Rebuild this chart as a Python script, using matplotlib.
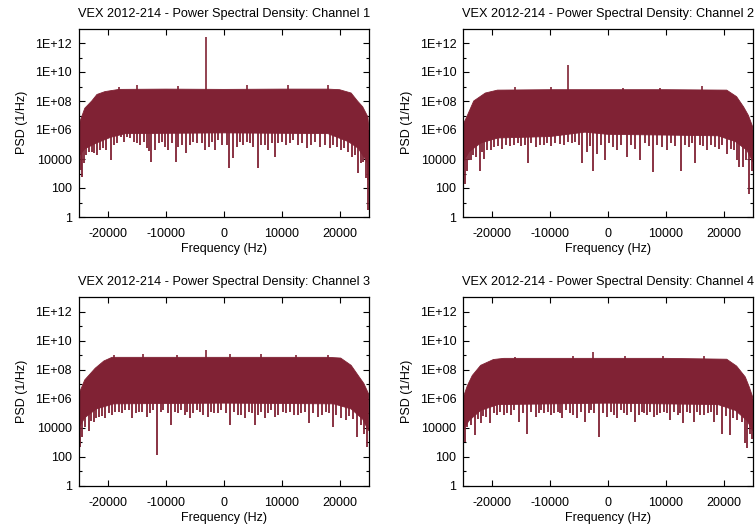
import numpy as np
import matplotlib
matplotlib.use("Agg")
import matplotlib.pyplot as plt
from matplotlib.ticker import FixedLocator, FixedFormatter, NullFormatter

plt.rcParams['font.family'] = ['Liberation Sans', 'DejaVu Sans']

TITLE = "VEX 2012-214 - Power Spectral Density: Channel {}"
XLABEL = "Frequency (Hz)"
YLABEL = "PSD (1/Hz)"
x_ticks = [-20000, -10000, 0, 10000, 20000]
x_tick_labels = ["-20000", "-10000", "0", "10000", "20000"]
y_ticks = [1, 1e2, 1e4, 1e6, 1e8, 1e10, 1e12]
y_tick_labels = ["1", "100", "10000", "1E+06", "1E+08", "1E+10", "1E+12"]
y_minor = [1e1, 1e3, 1e5, 1e7, 1e9, 1e11]

# ---- Channel 1 ----  (values as log10 of PSD)
ch1_top_f = [-25000, -24000, -22800, -21900, -20500, -18100, -10000, 0, 10000, 18000, 20000, 22000, 23100, 24000, 24900, 25000]
ch1_top_v = [6.4, 7.5, 8.0, 8.45, 8.65, 8.8, 8.82, 8.8, 8.82, 8.82, 8.78, 8.55, 8.0, 7.6, 6.9, 6.4]
ch1_floor_f = [-25000, -24000, -22000, -19500, -17000, 0, 18000, 21500, 23200, 24600, 25000]
ch1_floor_v = [4.2, 4.7, 5.1, 5.5, 5.75, 5.8, 5.75, 5.2, 4.75, 3.9, 3.5]
ch1_dip_f = [-25000, -24686, -24400, -24114, -23714, -23257, -22800, -22400, -21829, -21429, -20857, -20400,
             -19543, -18971, -18400, -17829, -17257, -16686, -16114, -15543, -14971, -14400, -13829,
             -13257, -12857, -12514, -11943, -11257, -10686, -10114, -9657, -8971, -8229, -7829, -7257,
             -6514, -5829, -5257, -4686, -3829, -3257, -2571, -2114, -1543, -971, -286,
             517, 920, 1552, 2241, 2816, 3391, 3966, 4540, 5115, 5862, 6437, 7126, 7701, 8276, 8851,
             9425, 10000, 10690, 11437, 12011, 12759, 13448, 14310, 15057, 15747, 16609, 17471, 18333,
             18908, 19483, 20172, 20805, 21494, 22069, 22644, 23218, 23678, 24080, 24483, 24943, 24990]
ch1_dip_v = [3.45, 3.24, 2.78, 3.70, 4.28, 4.51, 4.51, 4.39, 4.28, 4.62, 4.74, 4.62,
             3.93, 4.97, 5.08, 5.54, 5.20, 5.54, 5.43, 5.20, 5.08, 4.97, 5.20,
             4.74, 4.57, 3.82, 4.62, 5.08, 5.20, 4.85, 4.62, 5.08, 3.82, 4.85, 4.97,
             4.39, 4.97, 5.20, 5.08, 5.08, 4.62, 4.85, 5.20, 4.62, 5.31, 4.97,
             4.97, 3.36, 4.05, 4.85, 5.20, 4.97, 5.20, 5.08, 4.85, 3.36, 4.97, 4.97, 4.62, 5.08, 4.16,
             5.08, 5.20, 4.97, 5.08, 5.31, 4.97, 5.08, 4.74, 4.97, 5.20, 4.85, 4.97, 4.74,
             4.97, 4.85, 4.62, 4.74, 4.51, 4.16, 4.28, 3.01, 3.70, 3.82, 2.67, 2.55, 0.45]
ch1_spike_f = [-3000, -18114, -14971, -7829, 3966, 11149, 17931]
ch1_spike_v = [12.4, 8.99, 9.1, 9.05, 9.1, 9.08, 9.08]

# ---- Channel 2 ----
ch2_top_f = [-25000, -24300, -23200, -21200, -19100, -10000, 0, 10000, 20500, 22200, 23400, 24250, 25000]
ch2_top_v = [6.4, 7.0, 8.0, 8.55, 8.75, 8.78, 8.78, 8.78, 8.75, 8.3, 7.6, 7.0, 6.2]
ch2_floor_f = [-25000, -24000, -22000, -19000, -10000, -4000, 0, 10000, 19000, 22000, 24000, 25000]
ch2_floor_v = [3.8, 4.5, 5.1, 5.45, 5.55, 5.85, 5.7, 5.65, 5.6, 5.2, 4.6, 3.8]
ch2_dip_f = [-24770, -24430, -23740, -22870, -22180, -21440, -20290, -18280, -16260, -13910, -12530, -11090,
             -8220, -4480, -3620, -2640, -1900, -570, 1550, 3280, 5570, 7760, 10170, 12640, 15060, 17070,
             19080, 20520, 22240, 22700, 23390, 23850, 24310, 24830,
             -24100, -23300, -21800, -20900, -19700, -19000, -17700, -17000, -15600, -15000, -14400,
             -13300, -11800, -10500, -9800, -9200, -7600, -7000, -6300, -5700, -5100, -3100, -1200,
             200, 900, 2300, 4000, 4700, 6300, 7000, 8500, 9300, 10900, 11600, 13300, 14000, 14500,
             15800, 16400, 17800, 18400, 19700, 21300, 21800]
ch2_dip_v = [2.3, 3.2, 3.9, 4.15, 3.2, 4.0, 4.6, 4.7, 4.95, 3.7, 4.8, 4.95,
             5.05, 3.7, 4.5, 3.2, 4.35, 3.9, 4.6, 4.15, 3.9, 3.1, 4.6, 3.2, 3.7, 4.6,
             4.7, 4.35, 3.9, 3.45, 3.45, 3.9, 1.6, 3.2,
             3.9, 4.3, 4.5, 4.6, 4.8, 4.9, 5.0, 4.9, 5.1, 4.9, 5.0,
             5.1, 5.0, 5.1, 4.9, 5.1, 5.0, 5.2, 5.1, 5.2, 5.0, 4.9, 5.0,
             5.1, 4.8, 5.0, 5.0, 4.7, 5.1, 4.9, 5.0, 4.8, 5.1, 4.9, 5.0, 4.8, 5.1,
             5.0, 4.9, 5.0, 4.8, 5.0, 4.7, 4.6]
ch2_spike_f = [-6900, -9800, 16200, -16000, 2500, 9000]
ch2_spike_v = [10.5, 8.95, 9.05, 8.95, 8.92, 8.92]

# ---- Channel 3 ----
ch3_top_f = [-25000, -24000, -22200, -20700, -19300, -10000, 0, 10000, 18000, 20200, 22000, 23400, 24200, 25000]
ch3_top_v = [6.35, 7.3, 8.1, 8.6, 8.85, 8.85, 8.85, 8.85, 8.85, 8.8, 8.3, 7.5, 7.05, 6.35]
ch3_floor_f = [-25000, -24000, -22000, -19000, 0, 19000, 22000, 24000, 25000]
ch3_floor_v = [4.0, 4.7, 5.3, 5.65, 5.7, 5.65, 5.3, 4.6, 3.8]
ch3_dip_f = [-24810, -24470, -23900, -23210, -22460, -21600, -20460, -19310, -18170, -17020, -15760, -14150,
             -13300, -11520, -10430, -9110, -7850, -5850, -4130, -2690, -970, 1030, 2460, 3720, 5330,
             7050, 8770, 10200, 12210, 14790, 16220, 18800, 20230, 21090, 22980, 23670, 24240, 24810,
             -22900, -22000, -21100, -19900, -18700, -17600, -16400, -15200, -14700, -12800, -12200,
             -10900, -9700, -8500, -7300, -6700, -6300, -5300, -4700, -3500, -2200, -1600, -400, 400,
             1700, 3000, 4300, 4800, 6000, 6500, 7600, 8200, 9400, 10800, 11500, 12800, 13400, 14100,
             15500, 17000, 17600, 18200, 19400, 21700, 22400]
ch3_dip_v = [2.7, 3.4, 4.05, 3.75, 4.4, 4.75, 4.65, 4.85, 5.1, 5.2, 4.65, 5.1,
             4.75, 2.1, 5.2, 4.2, 5.0, 4.65, 5.1, 4.75, 5.0, 4.2, 4.85, 4.65, 4.2,
             4.65, 4.75, 5.1, 4.85, 4.3, 4.75, 4.05, 4.65, 4.55, 3.4, 4.2, 3.6, 2.7,
             4.5, 4.7, 4.8, 5.0, 5.1, 5.0, 5.2, 5.0, 5.1, 5.0, 5.2,
             5.1, 5.0, 5.1, 5.2, 4.9, 5.1, 5.0, 5.2, 4.9, 5.1, 5.0, 5.2, 5.0,
             5.1, 4.9, 5.1, 5.0, 4.9, 5.1, 5.0, 5.2, 4.9, 5.0, 5.1, 4.9, 5.0, 5.1,
             5.0, 4.9, 5.1, 5.0, 4.9, 4.8, 4.6]
ch3_spike_f = [-3150, -14000, 1100, 6500, -19000, -8000, 12500, 18000]
ch3_spike_v = [9.35, 9.1, 9.1, 9.05, 9.0, 9.02, 9.0, 9.0]

# ---- Channel 4 ----
ch4_top_f = [-25000, -24300, -23450, -22000, -19800, -18000, 0, 10000, 20500, 22200, 23700, 24400, 25000]
ch4_top_v = [6.1, 6.9, 7.6, 8.3, 8.7, 8.78, 8.78, 8.78, 8.72, 8.25, 7.5, 6.8, 6.1]
ch4_floor_f = [-25000, -24000, -22000, -19000, 0, 19000, 22000, 24000, 25000]
ch4_floor_v = [3.9, 4.5, 5.2, 5.6, 5.7, 5.6, 5.2, 4.5, 3.8]
ch4_dip_f = [-24770, -24310, -23740, -23050, -22010, -21150, -20400, -19140, -17990, -16840, -15400, -13970,
             -12530, -11090, -9370, -7930, -5340, -3910, -2470, -1490, -170, 1550, 3280, 4710, 6720,
             7870, 9020, 10750, 12930, 14770, 16490, 18220, 19660, 20980, 22240, 23100, 23680, 24080,
             24540, 24890,
             -22500, -21600, -19700, -18600, -17400, -16300, -14700, -13300, -12000, -11600, -10400,
             -9900, -8700, -8300, -7300, -6600, -6000, -4600, -3300, -2900, -900, 500, 1000, 2200,
             2700, 3900, 5300, 5800, 6200, 7300, 8400, 9600, 10100, 11400, 12000, 12400, 13700, 14200,
             15400, 15900, 17200, 17700, 18900, 20300, 21600]
ch4_dip_v = [3.05, 4.05, 4.2, 3.5, 4.3, 4.75, 4.3, 4.85, 4.85, 4.85, 4.4, 3.55,
             4.75, 5.0, 5.0, 4.65, 4.65, 4.4, 5.0, 3.4, 4.75, 4.65, 4.85, 4.4, 4.85,
             4.75, 5.0, 4.55, 4.3, 4.4, 4.85, 4.4, 3.6, 3.5, 4.55, 4.4, 2.95, 2.6,
             3.6, 3.25,
             4.6, 4.8, 5.0, 5.1, 5.0, 5.2, 5.0, 5.1, 5.0, 5.2, 5.1,
             4.9, 5.1, 5.0, 5.2, 5.0, 4.9, 5.1, 5.0, 5.2, 5.0, 5.1, 4.9, 5.2,
             5.0, 5.1, 4.9, 5.1, 5.0, 5.1, 4.9, 5.1, 5.0, 5.1, 4.9, 5.0, 5.1, 5.0,
             5.1, 4.9, 5.0, 5.1, 4.9, 4.8, 4.7]
ch4_spike_f = [-2640, -6000, 9500, -16000, 3000, 16500]
ch4_spike_v = [9.2, 8.95, 8.95, 8.9, 8.92, 8.92]

channels = [
    (ch1_top_f, ch1_top_v, ch1_floor_f, ch1_floor_v, ch1_dip_f, ch1_dip_v, ch1_spike_f, ch1_spike_v),
    (ch2_top_f, ch2_top_v, ch2_floor_f, ch2_floor_v, ch2_dip_f, ch2_dip_v, ch2_spike_f, ch2_spike_v),
    (ch3_top_f, ch3_top_v, ch3_floor_f, ch3_floor_v, ch3_dip_f, ch3_dip_v, ch3_spike_f, ch3_spike_v),
    (ch4_top_f, ch4_top_v, ch4_floor_f, ch4_floor_v, ch4_dip_f, ch4_dip_v, ch4_spike_f, ch4_spike_v),
]

COLOR = '#802234'
fig = plt.figure(figsize=(7.55, 5.32), dpi=100)
positions = [
    [79/755, 1-217/532, 289.5/755, 188.5/532],
    [463.3/755, 1-217/532, 289.5/755, 188.5/532],
    [79/755, 1-486/532, 289.5/755, 189/532],
    [463.3/755, 1-486/532, 289.5/755, 189/532],
]

for i, (pos, ch) in enumerate(zip(positions, channels)):
    tf, tv, ff, fv, df, dv, sf, sv = ch
    ax = fig.add_axes(pos)
    ax.fill(list(tf) + list(ff)[::-1],
            list(10 ** np.array(tv)) + list(10 ** np.array(fv))[::-1],
            color=COLOR, lw=0.6, zorder=2)
    ax.vlines(df, 10 ** np.array(dv), 1e6, color=COLOR, lw=1.3, zorder=2)
    ax.vlines(sf, 5e8, 10 ** np.array(sv), color=COLOR, lw=1.2, zorder=2)
    ax.set_yscale('log')
    ax.set_xlim(-25000, 25000)
    ax.set_ylim(1, 1e13)
    ax.xaxis.set_major_locator(FixedLocator(x_ticks))
    ax.xaxis.set_major_formatter(FixedFormatter(x_tick_labels))
    ax.xaxis.set_minor_locator(FixedLocator([]))
    ax.yaxis.set_major_locator(FixedLocator(y_ticks))
    ax.yaxis.set_major_formatter(FixedFormatter(y_tick_labels))
    ax.yaxis.set_minor_locator(FixedLocator(y_minor))
    ax.yaxis.set_minor_formatter(NullFormatter())
    ax.tick_params(which='major', direction='in', length=4.3, width=0.8, top=True, right=True,
                   labelsize=9, pad=5)
    ax.tick_params(axis='x', which='major', pad=8)
    ax.tick_params(which='minor', direction='in', length=2.2, width=0.8, top=True, right=True)
    for s in ax.spines.values():
        s.set_linewidth(0.9)
    ax.set_xlabel(XLABEL, fontsize=9, labelpad=2)
    ax.set_ylabel(YLABEL, fontsize=9, labelpad=5)
    ax.set_title(TITLE.format(i + 1), fontsize=9.2, pad=8.5)

fig.savefig("out.png", dpi=100)
